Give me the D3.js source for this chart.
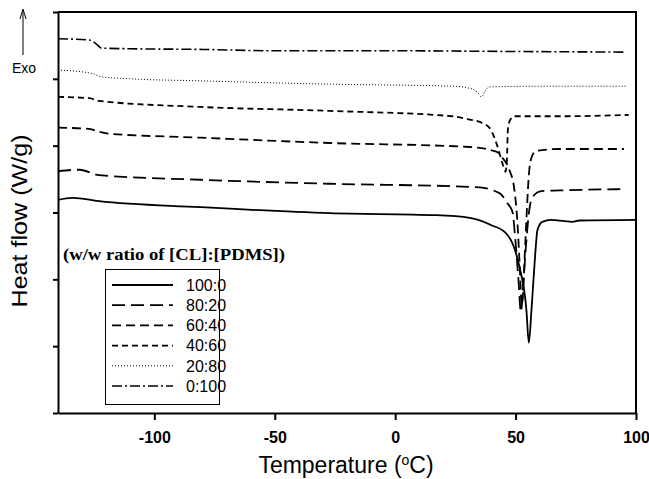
<!DOCTYPE html>
<html>
<head>
<meta charset="utf-8">
<script src="https://cdn.jsdelivr.net/npm/d3@7"></script>
<style>
  body { margin: 0; background: #fff; }
  svg { display: block; font-family: "Liberation Sans", Arial, sans-serif; }
  .x-axis text { font-family: "Liberation Sans", Arial, sans-serif; font-weight: bold; font-size: 16px; fill: #000; }
</style>
</head>
<body>
<div id="chart"></div>
<script>
// DSC traces, [temperature (°C), heat flow (arbitrary, offset)]
const cl100 = [[-140, 3.19], [-134, 3.22], [-123, 3.17], [-81, 3.08], [-27, 2.99], [17, 2.96], [31, 2.92], [40, 2.81], [46, 2.69], [48.7, 2.54], [51.6, 2.19], [54.5, 1.54], [55.5, 1.05], [56.6, 1.54], [57.8, 2.19], [59.1, 2.74], [61.1, 2.86], [64.9, 2.89], [70.3, 2.87], [73.6, 2.86], [76.5, 2.88], [100, 2.89]];
const cl80 = [[-140, 3.62], [-131, 3.64], [-123, 3.56], [-81, 3.49], [-27, 3.43], [33.7, 3.38], [43.3, 3.29], [46.6, 3.14], [48.7, 3.01], [49.9, 2.59], [51.2, 1.99], [52.2, 1.51], [53.3, 1.99], [54.5, 2.59], [55.7, 3.04], [57, 3.23], [60.7, 3.32], [68.2, 3.33], [96, 3.35]];
const cl60 = [[-140, 4.27], [-127, 4.25], [-123, 4.21], [-119, 4.18], [-81, 4.12], [-27, 4.04], [30.8, 3.98], [42, 3.91], [44.5, 3.82], [47.4, 3.64], [49.5, 3.34], [50.7, 2.89], [51.6, 2.29], [52.6, 1.62], [54.1, 2.59], [54.9, 3.19], [55.7, 3.64], [57, 3.86], [58.6, 3.92], [68.2, 3.95], [95, 3.95]];
const cl40 = [[-140, 4.73], [-127, 4.71], [-123, 4.67], [-81, 4.58], [-27, 4.52], [23.8, 4.44], [29.6, 4.40], [36.2, 4.34], [39.1, 4.27], [41.2, 4.12], [42.9, 3.94], [44.5, 3.74], [45.8, 3.61], [46.4, 3.79], [46.8, 4.24], [47.8, 4.39], [49.5, 4.44], [68.2, 4.44], [97, 4.46]];
const cl20 = [[-140, 5.13], [-129, 5.10], [-125, 5.07], [-122, 5.03], [-110, 5.00], [-81, 4.97], [-27, 4.92], [23.8, 4.89], [30.8, 4.86], [34.1, 4.80], [35.8, 4.73], [37.5, 4.82], [39.1, 4.88], [68.2, 4.89], [96, 4.89]];
const cl0 = [[-140, 5.60], [-127, 5.58], [-124, 5.52], [-122, 5.46], [-110, 5.45], [-80, 5.44], [-50, 5.42], [0, 5.42], [45, 5.41], [96, 5.40]];

const seriesNames = ["100:0", "80:20", "60:40", "40:60", "20:80", "0:100"];
const seriesData = [cl100, cl80, cl60, cl40, cl20, cl0];
const dashes = ["none", "13,6", "9,5", "6,4", "1,2", "10,3,2,3"];
const widths = [1.8, 1.8, 1.8, 1.8, 1, 1.6];

const xTicks = [-100, -50, 0, 50, 100];
const yTicks = [0, 1, 2, 3, 4, 5, 6];

const width = 649;
const height = 479;
const margin = { top: 12, right: 13, bottom: 66, left: 58 };

const svg = d3.select("#chart")
  .append("svg")
  .attr("width", width)
  .attr("height", height);

const x = d3.scaleLinear()
  .domain([-140, 100])
  .range([margin.left, width - margin.right]);

const y = d3.scaleLinear()
  .domain([0, 6])
  .range([height - margin.bottom, margin.top]);

// frame (top and right)
svg.append("path")
  .attr("d", `M${x(-140)},${y(6)}H${x(100)}V${y(0)}`)
  .attr("fill", "none")
  .attr("stroke", "#000")
  .attr("stroke-width", 2);

svg.append("g")
  .attr("class", "x-axis")
  .attr("transform", `translate(0,${y(0)})`)
  .call(
    d3.axisBottom(x)
      .tickValues(xTicks)
      .tickSize(7)
      .tickSizeOuter(0)
      .tickPadding(12)
      .tickFormat((d) => String(d))
  );

svg.append("g")
  .attr("class", "y-axis")
  .attr("transform", `translate(${x(-140)},0)`)
  .call(d3.axisLeft(y).tickValues(yTicks).tickSize(5).tickSizeOuter(0).tickFormat(""));

svg.selectAll(".domain, .tick line")
  .attr("stroke", "#000")
  .attr("stroke-width", 2);

// traces
const line = d3.line()
  .x((d) => x(d[0]))
  .y((d) => y(d[1]))
  .curve(d3.curveMonotoneX);

svg.append("g")
  .selectAll("path")
  .data(seriesData)
  .join("path")
  .attr("d", line)
  .attr("fill", "none")
  .attr("stroke", "#000")
  .attr("stroke-width", (d, i) => widths[i])
  .attr("stroke-dasharray", (d, i) => dashes[i])
  .attr("stroke-linejoin", "round");

// axis titles
svg.append("text")
  .attr("x", (x(-140) + x(100)) / 2 - 1)
  .attr("y", 473)
  .attr("text-anchor", "middle")
  .attr("font-size", 23)
  .call((t) => {
    t.append("tspan").text("Temperature (");
    t.append("tspan").attr("font-size", 14).attr("dy", -8).text("o");
    t.append("tspan").attr("dy", 8).text("C)");
  });

svg.append("text")
  .attr("transform", "translate(27,221) rotate(-90)")
  .attr("text-anchor", "middle")
  .attr("font-size", 22)
  .attr("textLength", 173)
  .attr("lengthAdjust", "spacingAndGlyphs")
  .text("Heat flow (W/g)");

// exo arrow
svg.append("line")
  .attr("x1", 23).attr("x2", 23)
  .attr("y1", 11).attr("y2", 55)
  .attr("stroke", "#000")
  .attr("stroke-width", 1);
svg.append("path")
  .attr("d", "M20,19L23,9L26,19")
  .attr("fill", "none")
  .attr("stroke", "#000")
  .attr("stroke-width", 1);
svg.append("text")
  .attr("x", 12)
  .attr("y", 73)
  .attr("font-size", 14)
  .text("Exo");

// legend
svg.append("text")
  .attr("x", 63)
  .attr("y", 260)
  .attr("font-family", "Liberation Serif, Times New Roman, serif")
  .attr("font-weight", "bold")
  .attr("font-size", 16)
  .attr("textLength", 222)
  .attr("lengthAdjust", "spacingAndGlyphs")
  .text("(w/w ratio of [CL]:[PDMS])");

svg.append("rect")
  .attr("x", 105.5)
  .attr("y", 269.5)
  .attr("width", 114)
  .attr("height", 135)
  .attr("fill", "#fff")
  .attr("stroke", "#000")
  .attr("stroke-width", 1);

const legendRow = svg.append("g")
  .selectAll("g")
  .data(seriesNames)
  .join("g")
  .attr("transform", (d, i) => `translate(0,${285 + i * 20.2})`);

legendRow.append("line")
  .attr("x1", 112)
  .attr("x2", 173)
  .attr("stroke", "#000")
  .attr("stroke-width", (d, i) => widths[i])
  .attr("stroke-dasharray", (d, i) => dashes[i]);

legendRow.append("text")
  .attr("x", 186)
  .attr("dy", "0.36em")
  .attr("font-size", 16)
  .text((d) => d);
</script>
</body>
</html>
